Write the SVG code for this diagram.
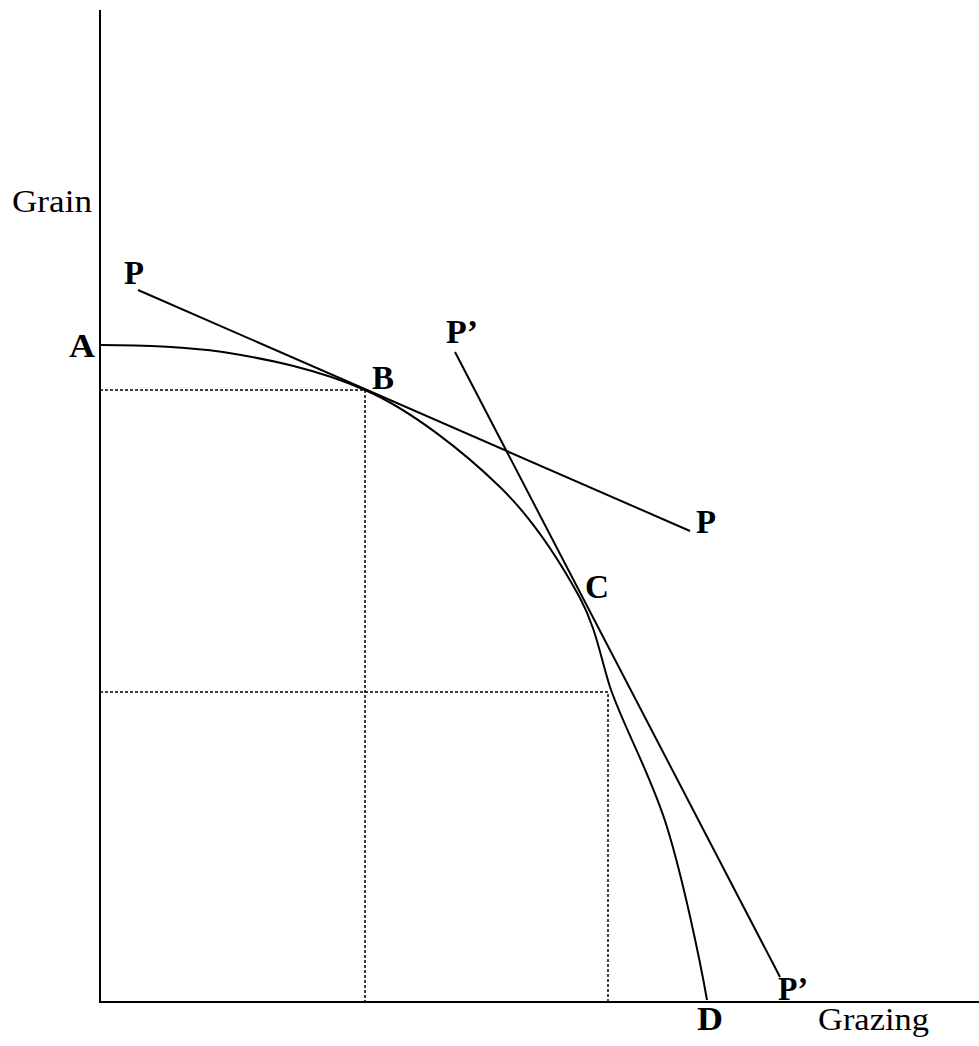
<svg xmlns="http://www.w3.org/2000/svg" width="979" height="1046" viewBox="0 0 979 1046">
<style>
.ax{stroke:#000;stroke-width:2;fill:none}
.ln{stroke:#000;stroke-width:2;fill:none}
.dot{stroke:#000;stroke-width:1.5;fill:none;stroke-dasharray:3,2}
.lbl{font-family:"Liberation Serif","Times New Roman",serif;font-size:33px;font-weight:bold;fill:#000}
.axl{font-family:"Liberation Serif","Times New Roman",serif;font-size:32px;fill:#000}
</style>
<rect width="979" height="1046" fill="#fff"/>
<g id="axes">
<line class="ax" x1="100" y1="10" x2="100" y2="1003"/>
<line class="ax" x1="99" y1="1002" x2="979" y2="1002"/>
<text class="axl" x="12" y="212" textLength="80" lengthAdjust="spacingAndGlyphs">Grain</text>
<text class="axl" x="818" y="1030" textLength="111" lengthAdjust="spacingAndGlyphs">Grazing</text>
</g>
<g id="guides">
<polyline class="dot" points="100,390 365,390 365,1002"/>
<polyline class="dot" points="100,692 608,692 608,1002"/>
</g>
<g id="connectors">
<path id="frontier" class="ln" d="M101,345 C141,345 179,346 223,352 C267,359 317,369 365,390 C411,410 464,452 500,487 C536,522 562,565 580,598 C596,628 600,655 610,687 C624,728 651,775 667,827 C683,879 700,960 707,1000"/>
<line id="price-P" class="ln" x1="138" y1="290" x2="690" y2="531"/>
<line id="price-P2" class="ln" x1="455" y1="352" x2="780" y2="977"/>
</g>
<g id="label-A"><text class="lbl" x="69" y="357" textLength="26" lengthAdjust="spacingAndGlyphs">A</text></g>
<g id="label-P1"><text class="lbl" x="124" y="284" textLength="20" lengthAdjust="spacingAndGlyphs">P</text></g>
<g id="label-B"><text class="lbl" x="372" y="389" textLength="22" lengthAdjust="spacingAndGlyphs">B</text></g>
<g id="label-Pp1"><text class="lbl" x="446" y="343" textLength="32" lengthAdjust="spacingAndGlyphs">P’</text></g>
<g id="label-P2"><text class="lbl" x="696" y="533" textLength="20" lengthAdjust="spacingAndGlyphs">P</text></g>
<g id="label-C"><text class="lbl" x="585" y="598" textLength="24" lengthAdjust="spacingAndGlyphs">C</text></g>
<g id="label-D"><text class="lbl" x="697" y="1030" textLength="26" lengthAdjust="spacingAndGlyphs">D</text></g>
<g id="label-Pp2"><text class="lbl" x="778" y="1000" textLength="30" lengthAdjust="spacingAndGlyphs">P’</text></g>
</svg>
